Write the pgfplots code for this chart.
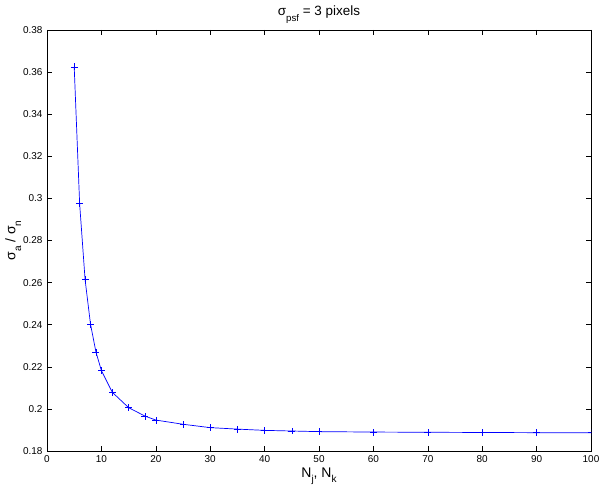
\documentclass[border=0pt]{standalone}
\usepackage{fontspec}
\setmainfont{Liberation Sans}
\usepackage{pgfplots}
\pgfplotsset{compat=1.18}
\definecolor{mblue}{RGB}{0,0,255}
\newcommand{\sub}[1]{\raisebox{-0.8ex}{\fontsize{0.72em}{1em}\selectfont #1}}
\begin{document}
\begin{tikzpicture}
\begin{axis}[
  scale only axis,
  width=544bp, height=421bp,
  xmin=0, xmax=100, ymin=0.18, ymax=0.38,
  xtick={0,10,...,100},
  ytick={0.18,0.2,0.22,0.24,0.26,0.28,0.3,0.32,0.34,0.36,0.38},
  yticklabels={0.18,0.2,0.22,0.24,0.26,0.28,0.3,0.32,0.34,0.36,0.38},
  tick align=inside,
  major tick length=5bp,
  tick style={black, line width=0.5bp},
  axis line style={black, line width=0.8bp},
  /pgf/number format/assume math mode=true,
  tick label style={font=\fontsize{10}{12}\selectfont},
  xticklabel style={yshift=-1bp},
  yticklabel style={xshift=-1bp},
  title={σ\sub{psf} = 3 pixels},
  title style={font=\fontsize{13.5}{15}\selectfont, yshift=-3bp},
  xlabel={N\sub{j}, N\sub{k}},
  xlabel style={font=\fontsize{14}{16}\selectfont, yshift=2bp},
  ylabel={σ\sub{a} / σ\sub{n}},
  ylabel style={font=\fontsize{14}{16}\selectfont, yshift=-5bp},
]
\addplot[draw=mblue, line width=0.7bp, no marks,
  error bars/.cd, x dir=both, y dir=both, x fixed=0.64, y fixed=0.00166,
  error mark=none, error bar style={draw=mblue, line width=0.6bp, solid}]
coordinates {
(5,0.3625) (6,0.2975) (7,0.2614) (8,0.2402) (9,0.2270) (10,0.2182) (12,0.2079)
(15,0.2006) (18,0.1966) (20,0.1947) (25,0.1927) (30,0.1911) (35,0.1904)
(40,0.1898) (45,0.1895) (50,0.1892) (60,0.1890) (70,0.1889) (80,0.1888)
(90,0.1887) (100,0.1887)
};
\coordinate (sw) at (rel axis cs:0,0);
\coordinate (ne) at (rel axis cs:1,1);
\end{axis}
\pgfresetboundingbox
\path[use as bounding box] ([shift={(-47bp,-40bp)}]sw) rectangle ([shift={(9bp,30bp)}]ne);
\end{tikzpicture}
\end{document}
